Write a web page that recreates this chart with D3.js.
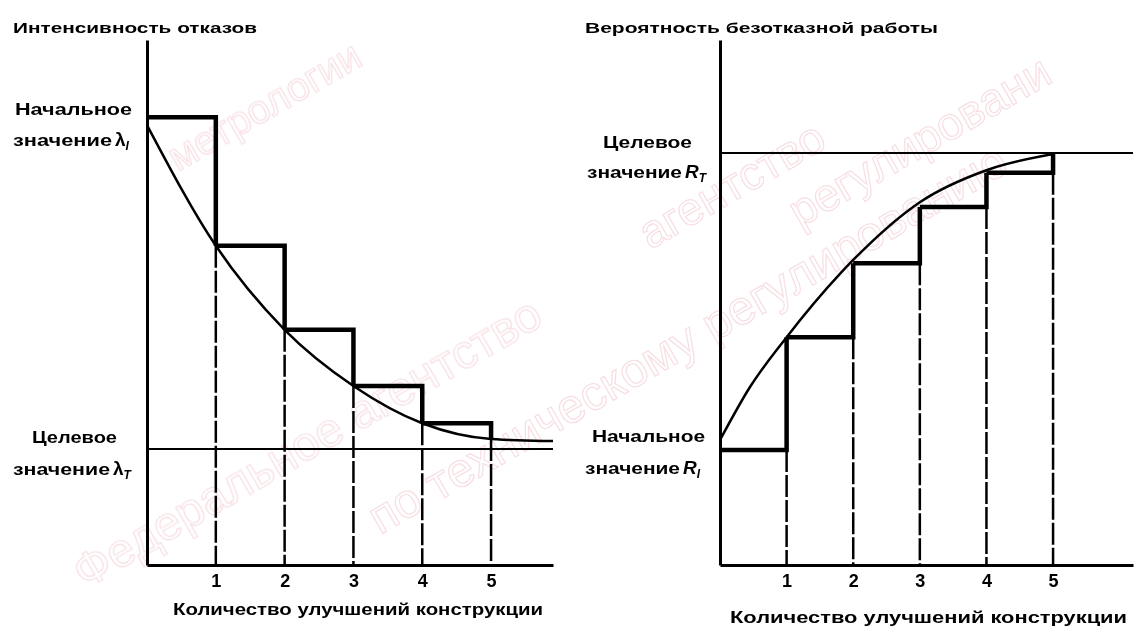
<!DOCTYPE html>
<html>
<head>
<meta charset="utf-8">
<script src="https://cdn.jsdelivr.net/npm/d3@7"></script>
<style>
  body { margin: 0; background: #fff; }
  svg text { font-family: "Liberation Sans", Arial, sans-serif; font-weight: bold; fill: #000; }
</style>
</head>
<body>
<div id="graf"></div>
<script>
// I. Datos
ticks = [1, 2, 3, 4, 5]

// gráfico izquierdo: intensidad de fallos
nivelesIzq = [85.3, 60.8, 44.8, 34.1, 27.0]
curvaIzqX = [0, 1, 2, 3, 4, 5, 5.9]
curvaIzqY = [83.8, 60.8, 44.8, 34.1, 27.0, 24.0, 23.6]
objetivoIzq = 22.1

// gráfico derecho: probabilidad de funcionamiento
nivelesDer = [21.9, 43.4, 57.5, 68.2, 74.7]
curvaDerX = [0, 0.45, 1, 2, 3, 4, 5]
curvaDerY = [23.8, 33.9, 43.4, 58.1, 69.1, 75.2, 78.3]
objetivoDer = 78.5

tituloIzq = 'Интенсивность отказов'
tituloDer = 'Вероятность безотказной работы'
tituloX = 'Количество улучшений конструкции'

// II. Configuración
ancho_total = 1140
alto_total = 632

svg = d3.select('#graf').append('svg')
        .attr('width', ancho_total)
        .attr('height', alto_total)

// marca de agua
agua = svg.append('g').style('opacity', 0.55)
marcas = [
  { t: 'метрологии', x: 178, y: 172, r: -30, s: 40 },
  { t: 'Федеральное агентство', x: 85, y: 590, r: -30, s: 48 },
  { t: 'по техническому регулированию', x: 380, y: 535, r: -30, s: 48 },
  { t: 'агентство', x: 650, y: 250, r: -30, s: 46 },
  { t: 'регулировани', x: 800, y: 228, r: -30, s: 46 }
]
agua.selectAll('text')
    .data(marcas)
    .enter()
  .append('text')
    .attr('transform', d => `translate(${d.x}, ${d.y}) rotate(${d.r})`)
    .style('font-size', d => d.s + 'px')
    .style('font-weight', 'normal')
    .style('fill', 'none')
    .style('stroke', '#f0c4cc')
    .style('stroke-width', 1.2)
    .text(d => d.t)

y = d3.scaleLinear().domain([0, 100]).range([565, 40])

function texto(g, x, yy, s, largo, size) {
  return g.append('text')
          .attr('x', x)
          .attr('y', yy)
          .attr('textLength', largo)
          .attr('lengthAdjust', 'spacingAndGlyphs')
          .style('font-size', size + 'px')
          .text(s)
}

function valor(g, x, yy, largo, simb, sub, italica) {
  texto(g, x, yy, 'значение', largo, 16)
  s = g.append('text')
       .attr('x', x + largo + 3)
       .attr('y', yy)
       .style('font-size', '19px')
  s.append('tspan')
   .style('font-style', italica ? 'italic' : 'normal')
   .text(simb)
  s.append('tspan')
   .attr('dy', 4)
   .style('font-size', '12px')
   .style('font-style', 'italic')
   .text(sub)
}

function grafico(cfg) {
  x = d3.scaleLinear().domain(cfg.dominio).range(cfg.rango)
  g = svg.append('g')

  // escalones
  n = cfg.niveles.length
  escalones = cfg.niveles.map((v, i) => ({ i: i, v: v,
    sig: i < n - 1 ? cfg.niveles[i + 1] : cfg.fin }))

  // verticales discontinuas hasta el eje
  g.selectAll('.disc')
   .data(escalones)
   .enter()
  .append('line')
   .attr('x1', d => x(d.i + 1))
   .attr('x2', d => x(d.i + 1))
   .attr('y1', d => y(Math.min(d.v, d.sig)))
   .attr('y2', y(0))
   .style('stroke', '#000')
   .style('stroke-width', 2.5)
   .style('stroke-dasharray', '22,3')

  g.selectAll('.esc')
   .data(escalones)
   .enter()
  .append('path')
   .attr('d', d => `M${x(d.i)},${y(d.v)}H${x(d.i + 1)}V${y(d.sig)}`)
   .style('fill', 'none')
   .style('stroke', '#000')
   .style('stroke-width', 4.5)
   .style('stroke-linejoin', 'miter')

  // línea objetivo
  g.append('line')
   .attr('x1', x(0))
   .attr('x2', x(cfg.dominio[1]))
   .attr('y1', y(cfg.objetivo))
   .attr('y2', y(cfg.objetivo))
   .style('stroke', '#000')
   .style('stroke-width', 2)

  // curva
  puntos = cfg.cx.map((v, i) => [v, cfg.cy[i]])
  linea = d3.line()
            .x(d => x(d[0]))
            .y(d => y(d[1]))
            .curve(d3.curveMonotoneX)
  g.append('path')
   .attr('d', linea(puntos))
   .style('fill', 'none')
   .style('stroke', '#000')
   .style('stroke-width', 2.5)

  // ejes
  xAxisCall = d3.axisBottom(x)
                .tickValues(ticks)
                .tickSize(0)
                .tickPadding(9)
                .tickFormat(d3.format('d'))
  xAxisGroup = g.append('g')
                .attr('transform', `translate(0, ${y(0)})`)
                .call(xAxisCall)
  xAxisGroup.select('.domain').style('stroke-width', 3)
  xAxisGroup.selectAll('text')
            .style('font-size', '18px')
            .style('font-family', '"Liberation Sans", Arial, sans-serif')
            .style('font-weight', 'bold')

  yAxisCall = d3.axisLeft(y).tickValues([]).tickSizeOuter(0)
  yAxisGroup = g.append('g')
                .attr('transform', `translate(${x(0)}, 0)`)
                .call(yAxisCall)
  yAxisGroup.select('.domain').style('stroke-width', 3)
  return g
}

// III. Dibujo
gIzq = grafico({ dominio: [0, 5.9], rango: [147, 553], niveles: nivelesIzq,
  fin: curvaIzqY[5], objetivo: objetivoIzq, cx: curvaIzqX, cy: curvaIzqY })
texto(gIzq, 13, 33, tituloIzq, 244, 15)
texto(gIzq, 15, 115, 'Начальное', 117, 16)
valor(gIzq, 13, 146, 99, 'λ', 'I', false)
texto(gIzq, 32, 443, 'Целевое', 85, 16)
valor(gIzq, 13, 475, 97, 'λ', 'T', false)
texto(gIzq, 173, 615, tituloX, 370, 16)

gDer = grafico({ dominio: [0, 6.2], rango: [720, 1133], niveles: nivelesDer,
  fin: objetivoDer, objetivo: objetivoDer, cx: curvaDerX, cy: curvaDerY })
texto(gDer, 585, 33, tituloDer, 353, 15)
texto(gDer, 603, 148, 'Целевое', 89, 16)
valor(gDer, 587, 178, 95, 'R', 'T', true)
texto(gDer, 592, 442, 'Начальное', 113, 16)
valor(gDer, 585, 474, 95, 'R', 'I', true)
texto(gDer, 730, 623, tituloX, 397, 16)
</script>
</body>
</html>
